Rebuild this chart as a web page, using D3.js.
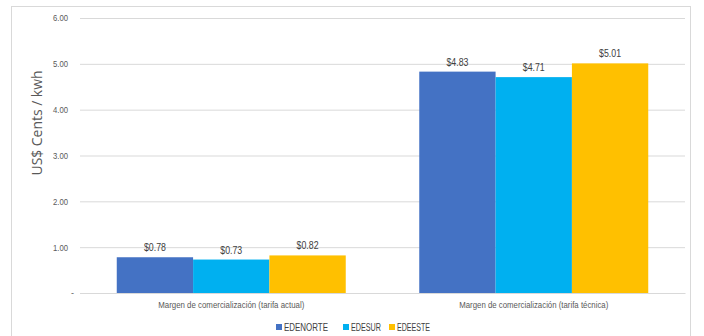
<!DOCTYPE html>
<html><head><meta charset="utf-8">
<script src="https://cdn.jsdelivr.net/npm/d3@7"></script>
<style>body{margin:0;background:#fff;}svg{display:block;}</style>
</head><body>
<script>
const categories = ["Margen de comercialización (tarifa actual)", "Margen de comercialización (tarifa técnica)"];
const seriesNames = ["EDENORTE", "EDESUR", "EDEESTE"];
const edenorte = [0.78, 4.83];
const edesur = [0.73, 4.71];
const edeeste = [0.82, 5.01];
const yTicks = [0, 1, 2, 3, 4, 5, 6];
const colors = ["#4472C4", "#00B0F0", "#FFC000"];
const seriesValues = [edenorte, edesur, edeeste];

const W = 704, H = 336;
const svg = d3.select("body").append("svg").attr("width", W).attr("height", H);
const font = "'Liberation Sans',Arial,sans-serif";

svg.append("rect").attr("x", 11.5).attr("y", 6.5).attr("width", 679).attr("height", 340)
  .attr("fill", "#fff").attr("stroke", "#d9d9d9");

const m = {l: 80, r: 685, t: 18, b: 293};
const y = d3.scaleLinear().domain([0, 6]).range([m.b, m.t]);
const x0 = d3.scaleBand().domain(categories).range([m.l, m.r]).paddingInner(0.243).paddingOuter(0.1215);
const x1 = d3.scaleBand().domain(seriesNames).range([0, x0.bandwidth()]);

// gridlines
const yAxis = d3.axisLeft(y).tickValues(yTicks).tickSize(-(m.r - m.l)).tickPadding(12)
  .tickFormat(d => d === 0 ? "-" : d3.format(".2f")(d));
const ga = svg.append("g").attr("transform", `translate(${m.l},0)`).call(yAxis);
ga.select(".domain").remove();
ga.selectAll(".tick line").attr("stroke", "#d9d9d9");
ga.selectAll(".tick text").attr("fill", "#595959").attr("font-size", 9).attr("font-family", font)
  .each(function(d) { if (d !== 0) d3.select(this).attr("textLength", 15).attr("lengthAdjust", "spacingAndGlyphs"); else d3.select(this).attr("x", -6); });

// bars
const groups = svg.append("g").selectAll("g").data(categories).join("g")
  .attr("transform", d => `translate(${x0(d)},0)`);
groups.selectAll("rect").data((d, i) => seriesNames.map((s, j) => ({s, v: seriesValues[j][i], c: colors[j]})))
  .join("rect")
  .attr("x", d => x1(d.s)).attr("width", x1.bandwidth())
  .attr("y", d => y(d.v)).attr("height", d => y(0) - y(d.v))
  .attr("fill", d => d.c);
groups.selectAll("text").data((d, i) => seriesNames.map((s, j) => ({s, v: seriesValues[j][i]})))
  .join("text")
  .attr("x", d => x1(d.s) + x1.bandwidth() / 2 - 11).attr("y", d => y(d.v) - 6)
  .attr("font-size", 11).attr("font-family", font).attr("fill", "#404040")
  .attr("textLength", 22).attr("lengthAdjust", "spacingAndGlyphs")
  .text(d => "$" + d3.format(".2f")(d.v));

// x axis
const catLen = [146, 149];
const xAxis = d3.axisBottom(x0).tickSize(0).tickPadding(9);
const gx = svg.append("g").attr("transform", `translate(0,${m.b})`).call(xAxis);
gx.select(".domain").attr("stroke", "#d9d9d9");
gx.selectAll(".tick text").attr("fill", "#595959").attr("font-size", 9).attr("font-family", font)
  .attr("text-anchor", "start").attr("x", (d, i) => -catLen[i] / 2)
  .attr("textLength", (d, i) => catLen[i]).attr("lengthAdjust", "spacingAndGlyphs");

// y title
svg.append("text").attr("transform", `translate(42,${(m.t + m.b) / 2 + 20}) rotate(-90)`)
  .attr("font-size", 14).attr("font-family", "'Open Sans',sans-serif")
  .attr("fill", "#595959").attr("textLength", 105).attr("lengthAdjust", "spacingAndGlyphs")
  .text("US$ Cents / kwh");

// legend
const legX = [276, 343, 389];
const legLen = [44, 30, 33];
const lg = svg.append("g").selectAll("g").data(seriesNames).join("g")
  .attr("transform", (d, i) => `translate(${legX[i]},324)`);
lg.append("rect").attr("width", 6).attr("height", 6).attr("fill", (d, i) => colors[i]);
lg.append("text").attr("x", 8).attr("y", 7).attr("font-size", 10).attr("font-family", font)
  .attr("fill", "#404040").attr("textLength", (d, i) => legLen[i]).attr("lengthAdjust", "spacingAndGlyphs")
  .text(d => d);
</script>
</body></html>
